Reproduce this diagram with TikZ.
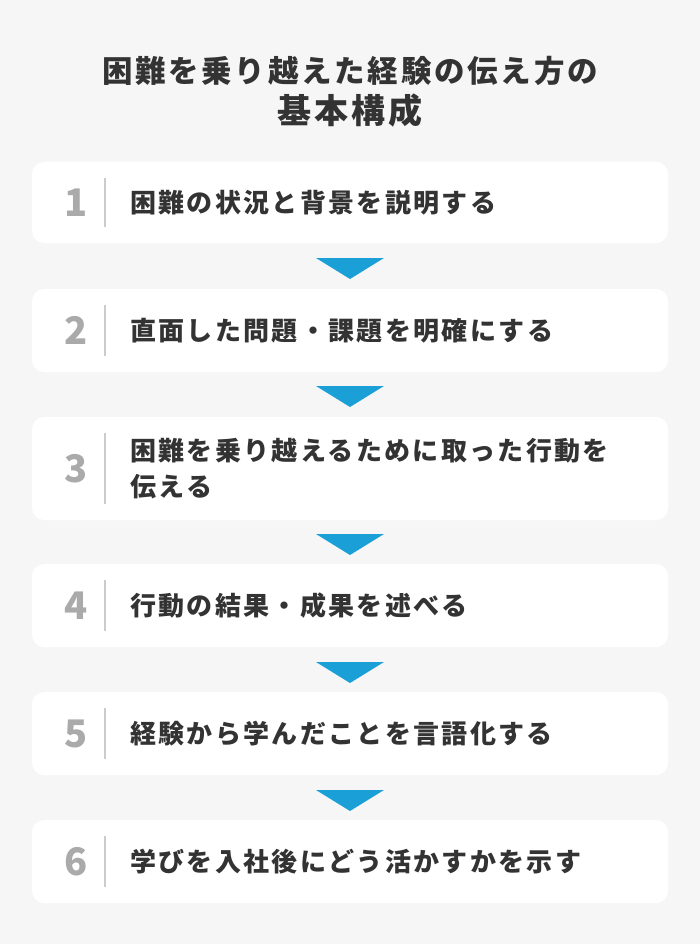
\documentclass[tikz,border=0pt]{standalone}
\usepackage{fontspec}
\usepackage{xcolor}
\usepackage{tikz}
\usetikzlibrary{positioning}
\newfontfamily\jpfont{Noto Sans CJK JP}[LetterSpace=9]
\definecolor{bggray}{HTML}{F6F6F6}
\definecolor{textdark}{HTML}{333333}
\definecolor{numgray}{HTML}{AAAAAA}
\definecolor{sepgray}{HTML}{CCCCCC}
\definecolor{stepblue}{HTML}{1A9FD6}

\begin{document}
\begin{tikzpicture} [x = 1pt, y = -1pt,
          stepbox/.style = {fill = white, rounded corners = 12pt,
              minimum width = 636pt, inner sep = 0pt
          },
          stepnum/.style = {text = numgray, font = \jpfont\bfseries\fontsize{38}{38}\selectfont},
          steptext/.style = {anchor = west, text = textdark, align = left, inner sep = 0pt,
              font = \jpfont\bfseries\fontsize{26}{36}\selectfont
          },
          sepline/.style = {draw = sepgray, line width = 2pt},
          steparrow/.style = {fill = stepblue}
          ]

          % Background
          \fill [bggray] (0,0) rectangle (700,944);

          % Title
          \node (title1) [text = textdark, font = \jpfont\bfseries\fontsize{30.5}{30.5}\selectfont] at (350,71) {困難を乗り越えた経験の伝え方の};
          \node (title2) [text = textdark, font = \jpfont\bfseries\fontsize{34}{34}\selectfont] at (350,111) {基本構成};

          % Step boxes
          \node (b1) [stepbox, minimum height = 81pt] at (350,202.5) {};
          \node (b2) [stepbox, minimum height = 83pt] at (350,330.5) {};
          \node (b3) [stepbox, minimum height = 103pt] at (350,468.5) {};
          \node (b4) [stepbox, minimum height = 83pt] at (350,605.5) {};
          \node (b5) [stepbox, minimum height = 83pt] at (350,733.5) {};
          \node (b6) [stepbox, minimum height = 83pt] at (350,861.5) {};

          % Numbers
          \node (n1) [stepnum] at (76,202.5) {1};
          \node (n2) [stepnum] at (76,330.5) {2};
          \node (n3) [stepnum] at (76,468.5) {3};
          \node (n4) [stepnum] at (76,605.5) {4};
          \node (n5) [stepnum] at (76,733.5) {5};
          \node (n6) [stepnum] at (76,861.5) {6};

          % Separators
          \draw [sepline] ([xshift = 73pt, yshift = -16pt]b1.north west) -- ([xshift = 73pt, yshift = 16pt]b1.south west);
          \draw [sepline] ([xshift = 73pt, yshift = -16pt]b2.north west) -- ([xshift = 73pt, yshift = 16pt]b2.south west);
          \draw [sepline] ([xshift = 73pt, yshift = -16pt]b3.north west) -- ([xshift = 73pt, yshift = 16pt]b3.south west);
          \draw [sepline] ([xshift = 73pt, yshift = -16pt]b4.north west) -- ([xshift = 73pt, yshift = 16pt]b4.south west);
          \draw [sepline] ([xshift = 73pt, yshift = -16pt]b5.north west) -- ([xshift = 73pt, yshift = 16pt]b5.south west);
          \draw [sepline] ([xshift = 73pt, yshift = -16pt]b6.north west) -- ([xshift = 73pt, yshift = 16pt]b6.south west);

          % Texts
          \node (t1) [steptext] at (130,202.5) {困難の状況と背景を説明する};
          \node (t2) [steptext] at (130,330.5) {直面した問題・課題を明確にする};
          \node (t3) [steptext] at (130,468.5) {困難を乗り越えるために取った行動を\\伝える};
          \node (t4) [steptext] at (130,605.5) {行動の結果・成果を述べる};
          \node (t5) [steptext] at (130,733.5) {経験から学んだことを言語化する};
          \node (t6) [steptext] at (130,861.5) {学びを入社後にどう活かすかを示す};

          % Arrows
          \fill [steparrow] (316,258) -- (384,258) -- (350,279) -- cycle;
          \fill [steparrow] (316,386) -- (384,386) -- (350,407) -- cycle;
          \fill [steparrow] (316,534) -- (384,534) -- (350,555) -- cycle;
          \fill [steparrow] (316,662) -- (384,662) -- (350,683) -- cycle;
          \fill [steparrow] (316,790) -- (384,790) -- (350,811) -- cycle;

        \end{tikzpicture}
\end{document}
